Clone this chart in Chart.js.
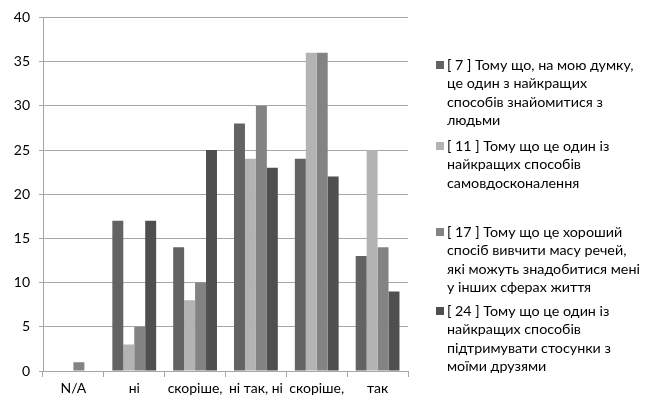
<!DOCTYPE html>
<html><head><meta charset="utf-8">
<script src="https://cdn.jsdelivr.net/npm/chart.js@4/dist/chart.umd.min.js"></script>
<style>
html,body{margin:0;padding:0;background:#fff;}
#wrap{position:relative;width:648px;height:401px;}
#legend{position:absolute;left:433px;top:0;font-family:Lato,"Open Sans",sans-serif;font-size:14.3px;color:#000;line-height:18.3px;}
.item{position:absolute;left:0;width:215px;padding-left:14px;white-space:nowrap;}
.sw{position:absolute;left:3px;top:5px;width:8px;height:8px;}
</style></head><body>
<div id="wrap"><canvas id="c" width="648" height="401"></canvas>
<div id="legend"></div></div>
<script>
const categories = ["N/A", "ні", "скоріше,", "ні так, ні", "скоріше,", "так"];
const seriesNames = [
  ["[ 7 ] Тому що, на мою думку,", "це один з найкращих", "способів знайомитися з", "людьми"],
  ["[ 11 ] Тому що це один із", "найкращих способів", "самовдосконалення"],
  ["[ 17 ] Тому що це хороший", "спосіб вивчити масу речей,", "які можуть знадобитися мені", "у інших сферах життя"],
  ["[ 24 ] Тому що це один із", "найкращих способів", "підтримувати стосунки з", "моїми друзями"]
];
const s7  = [0, 17, 14, 28, 24, 13];
const s11 = [0, 3, 8, 24, 36, 25];
const s17 = [1, 5, 10, 30, 36, 14];
const s24 = [0, 17, 25, 23, 22, 9];
const yTicks = [0, 5, 10, 15, 20, 25, 30, 35, 40];
const colors = ["#636363", "#b3b3b3", "#838383", "#4f4f4f"];
const legendTops = [56, 137, 223, 302];

const values = [s7, s11, s17, s24];
const ctx = document.getElementById('c');
new Chart(ctx, {
  type: 'bar',
  data: {
    labels: categories,
    datasets: values.map((v, i) => ({
      label: seriesNames[i].join(' '), data: v, backgroundColor: colors[i],
      barPercentage: 1.0, categoryPercentage: 0.72, borderWidth: 0
    }))
  },
  options: {
    responsive: false, animation: false,
    layout: {padding: {left: 0, right: 240, top: 16, bottom: 0}},
    plugins: {legend: {display: false}, tooltip: {enabled: false}},
    scales: {
      x: {
        grid: {drawOnChartArea: false, drawTicks: true, tickLength: 6, offset: true, color: '#a6a6a6'},
        border: {color: '#a6a6a6'},
        ticks: {color: '#000', font: {family: 'Lato', size: 14}, padding: 3, maxRotation: 0, autoSkip: false},
        afterFit: s => { s.height = 30; }
      },
      y: {
        min: 0, max: 40,
        afterBuildTicks: s => { s.ticks = yTicks.map(v => ({value: v})); },
        grid: {color: '#a6a6a6', tickLength: 4},
        border: {color: '#a6a6a6'},
        ticks: {color: '#000', font: {family: 'Lato', size: 14}, padding: 9},
        afterFit: s => { s.width = 43; }
      }
    }
  }
});
const lg = document.getElementById('legend');
seriesNames.forEach((lines, i) => {
  const d = document.createElement('div');
  d.className = 'item'; d.style.top = legendTops[i] + 'px';
  d.innerHTML = '<span class="sw" style="background:' + colors[i] + '"></span>' + lines.join('<br>');
  lg.appendChild(d);
});
</script></body></html>
